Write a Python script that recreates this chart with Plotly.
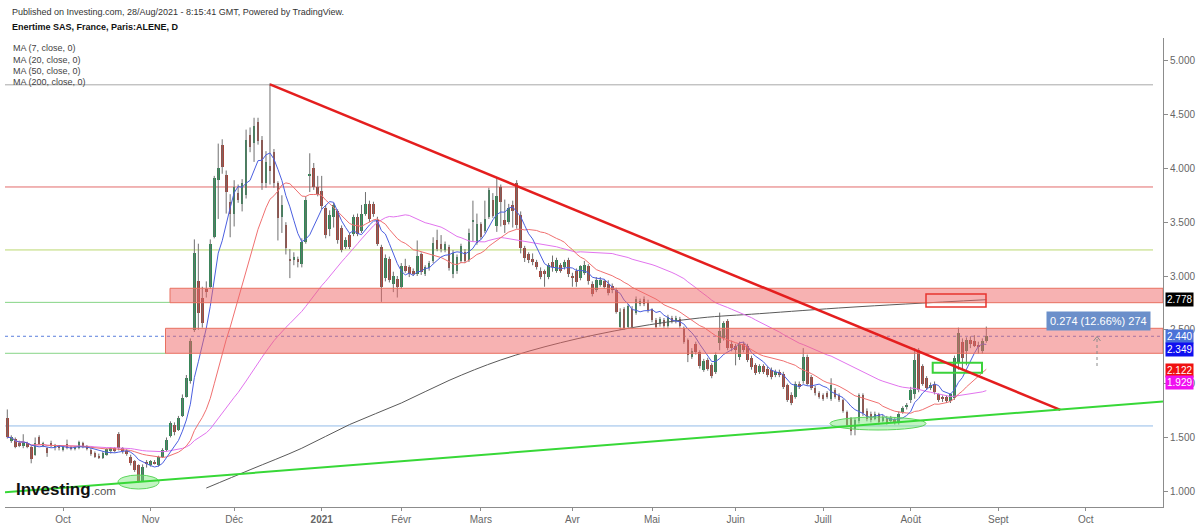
import plotly.graph_objects as go
import pandas as pd

# ------------------------------------------------------------------ data
HOLIDAYS = ["2020-12-25", "2021-01-01", "2021-04-02", "2021-04-05"]
FIRST_DAY, AXIS_LAST_DAY = "2020-09-11", "2021-10-29"

# daily OHLC, Sep 11 2020 .. Aug 27 2021 (trading days)
opens = [
    1.68, 1.47, 1.49, 1.45, 1.42, 1.45, 1.41, 1.34, 1.50, 1.42, 1.40, 1.45, 1.41, 1.42,
    1.38, 1.44, 1.41, 1.39, 1.40, 1.45, 1.42, 1.38, 1.36, 1.33, 1.31, 1.34, 1.37, 1.40,
    1.53, 1.40, 1.37, 1.32, 1.28, 1.24, 1.10, 1.27,
    1.24, 1.27, 1.24, 1.32, 1.38, 1.51, 1.62, 1.57, 1.70, 1.88, 2.02, 2.50, 2.95, 2.80,
    2.88, 2.90, 3.36, 3.89, 4.22, 3.94, 3.69,
    3.58, 3.77, 3.67, 3.75, 4.31, 4.24, 4.43, 4.26, 3.86, 4.02, 4.15, 3.86, 3.55, 3.47,
    3.16, 3.15, 3.16, 3.11, 3.32, 3.93, 4.00, 3.83,
    3.79, 3.63, 3.44, 3.55, 3.60, 3.45, 3.27, 3.38, 3.39, 3.55, 3.42, 3.58, 3.67, 3.67,
    3.52, 3.27, 2.98, 3.16, 2.93, 2.97,
    2.90, 3.09, 3.08, 3.05, 3.02, 3.20, 3.02, 3.07, 3.14, 3.33, 3.30, 3.24, 3.27, 3.02,
    3.05, 3.14, 3.22, 3.15, 3.50, 3.31,
    3.48, 3.42, 3.55, 3.71, 3.46, 3.83, 3.52, 3.50, 3.66, 3.86, 3.57, 3.26, 3.20, 3.16,
    3.13, 3.05, 3.05, 2.99, 3.13, 3.05, 3.10, 3.08, 3.15,
    3.00, 3.05, 2.98, 3.03, 3.09, 2.93, 2.87, 2.92, 2.95, 2.93, 2.91, 2.87, 2.53, 2.69,
    2.53, 2.69, 2.66, 2.74, 2.79, 2.76,
    2.69, 2.59, 2.55, 2.59, 2.54, 2.61, 2.58, 2.60, 2.52, 2.41, 2.25, 2.37, 2.29, 2.13,
    2.22, 2.17, 2.11, 2.38, 2.42, 2.58, 2.37,
    2.35, 2.25, 2.37, 2.35, 2.24, 2.17, 2.11, 2.16, 2.14, 2.13, 2.08, 2.11, 2.09, 1.99,
    1.89, 1.88, 2.00, 2.02, 2.25, 2.06, 1.96, 1.91,
    1.89, 1.91, 1.86, 1.94, 1.89, 1.85, 1.74, 1.68, 1.58, 1.65, 1.89, 1.75, 1.72, 1.67,
    1.72, 1.65, 1.68, 1.65, 1.67, 1.64, 1.74, 1.78,
    1.85, 1.90, 2.31, 2.16, 2.05, 1.96, 2.00, 1.90, 1.87, 1.88, 1.84, 1.87, 2.20, 2.39,
    2.30, 2.41, 2.40, 2.36, 2.30, 2.40,
]
highs = [
    1.76, 1.52, 1.50, 1.47, 1.53, 1.46, 1.42, 1.50, 1.52, 1.46, 1.41, 1.47, 1.44, 1.43,
    1.42, 1.48, 1.42, 1.42, 1.47, 1.46, 1.43, 1.40, 1.37, 1.35, 1.37, 1.40, 1.41, 1.41,
    1.55, 1.41, 1.39, 1.34, 1.29, 1.25, 1.25, 1.29,
    1.29, 1.29, 1.33, 1.40, 1.50, 1.65, 1.64, 1.70, 1.90, 2.08, 2.42, 3.34, 3.30, 2.90,
    2.95, 3.34, 3.93, 4.23, 4.27, 3.98, 3.76,
    3.89, 3.85, 3.90, 4.36, 4.38, 4.47, 4.47, 4.30, 4.16, 4.79, 4.18, 3.88, 3.75, 3.50,
    3.25, 3.22, 3.18, 3.35, 3.74, 4.14, 4.05, 3.93,
    3.93, 3.66, 3.61, 3.68, 3.62, 3.47, 3.36, 3.40, 3.57, 3.58, 3.66, 3.78, 3.70, 3.69,
    3.55, 3.29, 3.20, 3.18, 3.04, 3.00,
    3.12, 3.16, 3.10, 3.07, 3.33, 3.22, 3.10, 3.14, 3.36, 3.43, 3.38, 3.32, 3.29, 3.24,
    3.20, 3.30, 3.25, 3.44, 3.70, 3.58,
    3.50, 3.70, 3.82, 3.77, 3.91, 3.85, 3.71, 3.67, 3.70, 3.89, 3.60, 3.28, 3.22, 3.21,
    3.15, 3.08, 3.06, 3.12, 3.19, 3.17, 3.12, 3.15, 3.17,
    3.03, 3.07, 3.10, 3.14, 3.11, 2.95, 2.99, 2.99, 2.97, 2.96, 2.93, 2.89, 2.70, 2.71,
    2.74, 2.72, 2.81, 2.79, 2.81, 2.78,
    2.70, 2.61, 2.62, 2.61, 2.64, 2.63, 2.63, 2.62, 2.53, 2.42, 2.33, 2.39, 2.31, 2.23,
    2.24, 2.19, 2.29, 2.66, 2.58, 2.60, 2.40,
    2.37, 2.39, 2.39, 2.37, 2.26, 2.19, 2.18, 2.18, 2.16, 2.15, 2.13, 2.13, 2.11, 2.00,
    1.92, 2.02, 2.02, 2.33, 2.27, 2.08, 1.98, 1.93,
    1.91, 1.93, 2.05, 1.96, 1.91, 1.86, 1.75, 1.69, 1.68, 1.91, 1.91, 1.77, 1.74, 1.74,
    1.73, 1.71, 1.70, 1.70, 1.69, 1.74, 1.79, 1.82,
    1.97, 2.33, 2.33, 2.18, 2.07, 2.01, 2.02, 1.91, 1.89, 1.89, 1.91, 2.26, 2.52, 2.42,
    2.43, 2.44, 2.45, 2.39, 2.42, 2.53,
]
lows = [
    1.49, 1.45, 1.40, 1.41, 1.40, 1.40, 1.26, 1.33, 1.43, 1.41, 1.32, 1.41, 1.38, 1.38,
    1.37, 1.39, 1.38, 1.38, 1.39, 1.40, 1.38, 1.33, 1.31, 1.30, 1.30, 1.33, 1.35, 1.36,
    1.38, 1.35, 1.33, 1.24, 1.18, 1.08, 1.09, 1.22,
    1.23, 1.25, 1.23, 1.31, 1.37, 1.50, 1.52, 1.56, 1.69, 1.87, 2.00, 2.48, 2.50, 2.52,
    2.80, 2.88, 3.35, 3.53, 3.95, 3.58, 3.36,
    3.46, 3.68, 3.60, 3.72, 4.15, 4.06, 4.22, 3.80, 3.82, 3.85, 3.82, 3.33, 3.40, 3.20,
    2.98, 3.10, 3.08, 3.08, 3.30, 3.78, 3.80, 3.74,
    3.62, 3.35, 3.37, 3.45, 3.30, 3.22, 3.25, 3.25, 3.37, 3.37, 3.40, 3.56, 3.50, 3.55,
    3.28, 2.76, 2.95, 2.94, 2.85, 2.80,
    2.88, 3.03, 2.99, 3.00, 3.00, 3.01, 3.00, 3.05, 3.12, 3.23, 3.22, 3.22, 3.05, 2.98,
    3.02, 3.12, 3.12, 3.13, 3.32, 3.29,
    3.34, 3.40, 3.53, 3.54, 3.41, 3.46, 3.40, 3.48, 3.45, 3.44, 3.21, 3.13, 3.12, 3.10,
    3.06, 2.97, 2.90, 2.97, 3.04, 3.03, 3.03, 3.06, 2.99,
    2.90, 2.90, 2.96, 3.01, 2.92, 2.81, 2.85, 2.90, 2.88, 2.82, 2.84, 2.65, 2.50, 2.50,
    2.51, 2.51, 2.64, 2.72, 2.72, 2.66,
    2.57, 2.51, 2.53, 2.52, 2.52, 2.56, 2.56, 2.52, 2.37, 2.20, 2.23, 2.27, 2.14, 2.11,
    2.12, 2.05, 2.09, 2.31, 2.40, 2.31, 2.30,
    2.17, 2.22, 2.29, 2.20, 2.13, 2.08, 2.09, 2.09, 2.06, 2.04, 2.06, 2.06, 1.95, 1.83,
    1.80, 1.86, 1.95, 2.00, 1.98, 1.94, 1.89, 1.86,
    1.84, 1.86, 1.84, 1.86, 1.83, 1.73, 1.60, 1.52, 1.52, 1.63, 1.70, 1.65, 1.64, 1.66,
    1.62, 1.64, 1.62, 1.64, 1.62, 1.62, 1.72, 1.76,
    1.82, 1.86, 1.92, 1.98, 1.94, 1.94, 1.90, 1.83, 1.83, 1.82, 1.82, 1.85, 2.13, 2.13,
    2.17, 2.33, 2.34, 2.28, 2.28, 2.38,
]
closes = [
    1.50, 1.50, 1.41, 1.42, 1.46, 1.41, 1.30, 1.45, 1.44, 1.45, 1.36, 1.42, 1.43, 1.40,
    1.41, 1.40, 1.39, 1.41, 1.46, 1.41, 1.39, 1.35, 1.32, 1.31, 1.36, 1.39, 1.40, 1.37,
    1.40, 1.37, 1.35, 1.26, 1.20, 1.10, 1.23, 1.25,
    1.28, 1.26, 1.32, 1.38, 1.48, 1.63, 1.55, 1.68, 1.87, 2.05, 2.40, 3.21, 2.66, 2.56,
    2.85, 3.30, 3.91, 4.00, 4.01, 3.78, 3.58,
    3.83, 3.71, 3.86, 4.26, 4.20, 4.39, 4.25, 3.86, 4.06, 3.98, 3.86, 3.54, 3.66, 3.26,
    3.14, 3.18, 3.13, 3.32, 3.71, 3.94, 3.83, 3.76,
    3.65, 3.38, 3.57, 3.66, 3.33, 3.24, 3.33, 3.27, 3.55, 3.39, 3.58, 3.67, 3.53, 3.58,
    3.30, 2.90, 3.17, 2.96, 3.00, 2.90,
    3.09, 3.05, 3.02, 3.02, 3.19, 3.04, 3.08, 3.12, 3.31, 3.25, 3.25, 3.30, 3.07, 3.21,
    3.18, 3.28, 3.14, 3.40, 3.52, 3.48,
    3.36, 3.53, 3.80, 3.56, 3.74, 3.69, 3.47, 3.63, 3.60, 3.47, 3.26, 3.17, 3.15, 3.13,
    3.08, 2.99, 3.02, 3.10, 3.08, 3.15, 3.05, 3.13, 3.02,
    2.99, 2.94, 3.09, 3.10, 2.95, 2.83, 2.96, 2.96, 2.90, 2.84, 2.87, 2.67, 2.67, 2.52,
    2.72, 2.53, 2.79, 2.77, 2.74, 2.68,
    2.59, 2.53, 2.60, 2.54, 2.62, 2.58, 2.61, 2.54, 2.39, 2.27, 2.30, 2.29, 2.16, 2.21,
    2.14, 2.07, 2.27, 2.49, 2.56, 2.33, 2.33,
    2.31, 2.37, 2.31, 2.22, 2.15, 2.10, 2.16, 2.11, 2.08, 2.06, 2.11, 2.08, 1.97, 1.85,
    1.82, 2.00, 1.97, 2.25, 2.00, 1.96, 1.91, 1.88,
    1.86, 1.88, 1.99, 1.88, 1.85, 1.75, 1.62, 1.56, 1.66, 1.89, 1.73, 1.67, 1.66, 1.72,
    1.64, 1.69, 1.63, 1.68, 1.64, 1.72, 1.77, 1.80,
    1.94, 2.22, 1.94, 2.00, 1.96, 1.99, 1.92, 1.85, 1.86, 1.84, 1.90, 2.24, 2.47, 2.24,
    2.41, 2.37, 2.35, 2.34, 2.40, 2.44,
]

# 200-day moving average (longer history not visible)
ma200_dates = ["2020-11-20", "2020-12-07", "2020-12-24", "2021-01-13", "2021-02-01",
               "2021-02-17", "2021-03-08", "2021-03-29", "2021-04-26", "2021-05-19",
               "2021-06-09", "2021-07-12", "2021-08-27"]
ma200_values = [1.03, 1.20, 1.40, 1.62, 1.82, 2.03, 2.22, 2.38, 2.52, 2.61, 2.65, 2.71, 2.78]

month_labels = ["Oct", "Nov", "Déc", "<b>2021</b>", "Févr", "Mars", "Avr", "Mai",
                "Juin", "Juill", "Août", "Sept", "Oct"]
y_ticks = [1.0, 1.5, 2.0, 2.5, 3.0, 3.5, 4.0, 4.5, 5.0]

# drawn levels / trend lines (values)
level_gray, level_red, level_yellow, level_blue = 4.776, 3.827, 3.242, 1.607
level_green_hi, level_green_lo = 2.755, 2.282
last_price = 2.440
zone_hi = [2.752, 2.886]
zone_lo = [2.282, 2.514]
trend_red_idx, trend_red_val = [66, 264.6], [4.78, 1.757]
trend_green_idx, trend_green_val = [-0.58, 290.4], [0.99, 1.835]

price_labels = [("2.778", 2.778, "#000000", 0), ("2.440", 2.440, "#4a72d8", 0),
                ("2.349", 2.349, "#1010f0", -3), ("2.122", 2.122, "#f01010", 0),
                ("1.929", 1.929, "#f010f0", 9)]

# ------------------------------------------------------------------ geometry helpers
L, R, T, B = 5, 1163, 38, 507
Y0, Y1 = 0.854, 5.211
X0, X1 = -0.58, 290.4


def pxx(x):
    return (x - L) / (R - L)


def pxy(y):
    return (B - y) / (B - T)


def ix(xpix):  # pixel -> trading-day index
    return X0 + (xpix - L) / (R - L) * (X1 - X0)


def vy(ypix):  # pixel -> price
    return Y0 + (B - ypix) / (B - T) * (Y1 - Y0)


# ------------------------------------------------------------------ calendar
cal = pd.bdate_range(FIRST_DAY, AXIS_LAST_DAY, freq="C", holidays=HOLIDAYS)
pos = {d.strftime("%Y-%m-%d"): i for i, d in enumerate(cal)}
tickvals = []
for ms in pd.date_range("2020-10-01", "2021-10-01", freq="MS"):
    tickvals.append(int((cal >= ms).argmax()))

n = len(closes)
idx = list(range(n))
s_close = pd.Series(closes)
ma7 = s_close.rolling(7, min_periods=1).mean()
ma20 = s_close.rolling(20, min_periods=1).mean()
ma50 = s_close.rolling(50, min_periods=1).mean()

UP, DOWN = "#2e8a55", "#a6463c"
colors = [UP if c >= o else DOWN for o, c in zip(opens, closes)]
body_base = [min(o, c) for o, c in zip(opens, closes)]
body_h = [max(abs(c - o), 0.008) for o, c in zip(opens, closes)]

wx, wy = [], []
for i, (h, l) in enumerate(zip(highs, lows)):
    wx += [i, i, None]
    wy += [l, h, None]

fig = go.Figure()
fig.add_trace(go.Scatter(x=wx, y=wy, mode="lines", line=dict(color="#707070", width=1),
                         hoverinfo="skip"))
fig.add_trace(go.Bar(x=idx, y=body_h, base=body_base, width=0.66,
                     marker=dict(color=colors, line=dict(width=0)), hoverinfo="skip"))
fig.add_trace(go.Scatter(x=[pos[d] for d in ma200_dates], y=ma200_values, mode="lines",
                         line=dict(color="#5a5a5a", width=1, shape="spline"), hoverinfo="skip"))
fig.add_trace(go.Scatter(x=idx, y=ma50, mode="lines", line=dict(color="#e274ee", width=1),
                         hoverinfo="skip"))
fig.add_trace(go.Scatter(x=idx, y=ma20, mode="lines", line=dict(color="#f07070", width=1),
                         hoverinfo="skip"))
fig.add_trace(go.Scatter(x=idx, y=ma7, mode="lines", line=dict(color="#4b5fe0", width=1),
                         hoverinfo="skip"))

shapes = []
hx_end = ix(1153)
for val, col in [(level_gray, "#a8a8a8"), (level_red, "#e26a6a"),
                 (level_yellow, "#bcd870"), (level_blue, "#93bbe8")]:
    shapes.append(dict(type="line", x0=X0, x1=hx_end, y0=val, y1=val,
                       line=dict(color=col, width=1), layer="below"))
shapes.append(dict(type="line", x0=X0, x1=ix(170), y0=level_green_hi, y1=level_green_hi,
                   line=dict(color="#86d486", width=1), layer="below"))
shapes.append(dict(type="line", x0=X0, x1=ix(166), y0=level_green_lo, y1=level_green_lo,
                   line=dict(color="#86d486", width=1), layer="below"))
shapes.append(dict(type="line", x0=X0, x1=X1, y0=last_price, y1=last_price,
                   line=dict(color="#5a7fdc", width=1, dash="dot"), layer="below"))
# zones
shapes.append(dict(type="rect", x0=ix(170), x1=X1, y0=zone_hi[0], y1=zone_hi[1],
                   fillcolor="rgba(240,102,102,0.5)", line=dict(color="#e87060", width=1)))
shapes.append(dict(type="rect", x0=ix(165.5), x1=X1, y0=zone_lo[0], y1=zone_lo[1],
                   fillcolor="rgba(240,102,102,0.5)", line=dict(color="#e87060", width=1)))
# outline boxes
shapes.append(dict(type="rect", x0=ix(926), x1=ix(986), y0=vy(307), y1=vy(294),
                   line=dict(color="#e8342f", width=1.5)))
shapes.append(dict(type="rect", x0=ix(932.7), x1=ix(982), y0=vy(372.7), y1=vy(362.7),
                   line=dict(color="#3bd23b", width=2)))
# ellipses
shapes.append(dict(type="circle", x0=ix(118), x1=ix(159), y0=vy(489), y1=vy(475),
                   fillcolor="rgba(120,230,120,0.45)", line=dict(color="#5cd65c", width=1)))
shapes.append(dict(type="circle", x0=ix(830), x1=ix(926), y0=vy(430), y1=vy(417),
                   fillcolor="rgba(120,230,120,0.45)", line=dict(color="#5cd65c", width=1)))
# trend lines
shapes.append(dict(type="line", x0=trend_red_idx[0], x1=trend_red_idx[1],
                   y0=trend_red_val[0], y1=trend_red_val[1],
                   line=dict(color="#e41e1e", width=2.5)))
shapes.append(dict(type="line", x0=trend_green_idx[0], x1=trend_green_idx[1],
                   y0=trend_green_val[0], y1=trend_green_val[1],
                   line=dict(color="#37d837", width=2)))
# measure arrow
ax_ = ix(1097)
shapes.append(dict(type="line", x0=ax_, x1=ax_, y0=vy(366), y1=vy(337),
                   line=dict(color="#8a8a8a", width=1, dash="dot")))
shapes.append(dict(type="path",
                   path=f"M {ix(1093.5)} {vy(341)} L {ax_} {vy(336.5)} L {ix(1100.5)} {vy(341)}",
                   line=dict(color="#8a8a8a", width=1)))

FONT = "Liberation Sans, Arial, sans-serif"
ann = []
ann.append(dict(text="Published on Investing.com, 28/Aug/2021 - 8:15:41 GMT, Powered by TradingView.",
                x=pxx(10), y=pxy(12), xref="paper", yref="paper", xanchor="left", yanchor="middle",
                showarrow=False, font=dict(family=FONT, size=9, color="#333333")))
ann.append(dict(text="<b>Enertime SAS, France, Paris:ALENE, D</b>",
                x=pxx(10), y=pxy(27), xref="paper", yref="paper", xanchor="left", yanchor="middle",
                showarrow=False, font=dict(family=FONT, size=9, color="#111111")))
for k, t in enumerate(["MA (7, close, 0)", "MA (20, close, 0)", "MA (50, close, 0)",
                       "MA (200, close, 0)"]):
    ann.append(dict(text=t, x=pxx(11), y=pxy(48.5 + k * 11.2), xref="paper", yref="paper",
                    xanchor="left", yanchor="middle", showarrow=False,
                    font=dict(family=FONT, size=9, color="#444444")))
for txt, val, col, shift in price_labels:
    ann.append(dict(text=txt, x=1, y=val, xref="paper", yref="y", xanchor="left",
                    yanchor="middle", xshift=2, yshift=shift, showarrow=False, bgcolor=col,
                    borderpad=1, font=dict(family=FONT, size=10, color="white")))
ann.append(dict(text="0.274 (12.66%) 274", x=ix(1098), y=vy(321), xref="x", yref="y",
                xanchor="center", yanchor="middle", showarrow=False, bgcolor="#6b8fca",
                borderpad=3, font=dict(family=FONT, size=11, color="white")))
ann.append(dict(text="<b>Investing</b>", x=pxx(14), y=pxy(489), xref="paper", yref="paper",
                xanchor="left", yanchor="middle", showarrow=False,
                font=dict(family=FONT, size=17, color="#111111")))
ann.append(dict(text=".com", x=pxx(88.5), y=pxy(491), xref="paper", yref="paper",
                xanchor="left", yanchor="middle", showarrow=False,
                font=dict(family=FONT, size=11.5, color="#555555")))

fig.update_layout(
    width=1200, height=525,
    margin=dict(l=L, r=1200 - R, t=T, b=525 - B, pad=0),
    paper_bgcolor="white", plot_bgcolor="white",
    showlegend=False, hovermode=False, bargap=0,
    shapes=shapes, annotations=ann,
    xaxis=dict(range=[X0, X1], tickvals=tickvals, ticktext=month_labels,
               showgrid=False, zeroline=False, showline=True, linecolor="#8c8c8c",
               ticks="outside", ticklen=3, tickcolor="#8c8c8c", automargin=False,
               tickfont=dict(family=FONT, size=10, color="#666666")),
    yaxis=dict(range=[Y0, Y1], side="right", tickvals=y_ticks, tickformat=".3f",
               showgrid=False, zeroline=False, showline=True, linecolor="#8c8c8c",
               ticks="outside", ticklen=4, tickcolor="#8c8c8c", automargin=False,
               tickfont=dict(family=FONT, size=10, color="#666666")),
)

fig.write_html("out.html")
